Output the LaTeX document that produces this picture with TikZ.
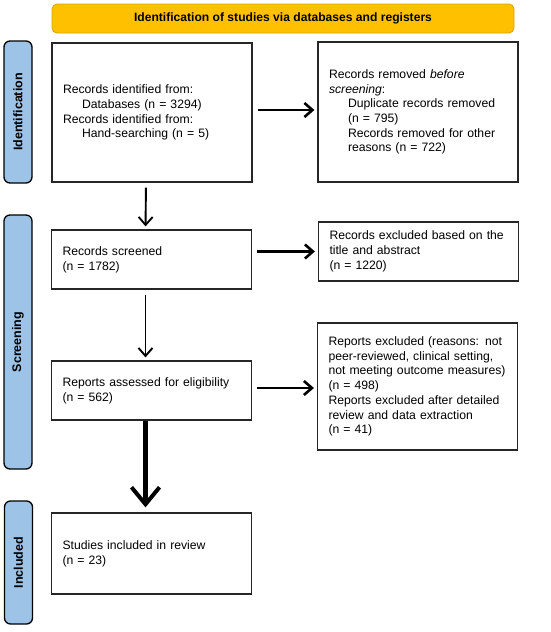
\documentclass[tikz,border=0pt]{standalone}
\usepackage{fontspec}
\setmainfont{Liberation Sans}
\usetikzlibrary{arrows.meta}
\definecolor{PrismaGold}{HTML}{FFC000}
\definecolor{PrismaGoldEdge}{HTML}{D9A200}
\definecolor{PrismaBlue}{HTML}{9DC3E6}
\definecolor{PrismaEdge}{HTML}{262626}

\begin{document}
\begin{tikzpicture}[
  x=1pt, y=-1pt,
  every node/.style={font=\fontsize{12.2pt}{14.7pt}\selectfont},
  box/.style={draw=PrismaEdge, line width=1.2pt, align=left,
              text width=178pt, inner xsep=11pt, inner ysep=0pt,
              minimum width=200pt},
  banner/.style={draw=PrismaGoldEdge, fill=PrismaGold, line width=0.8pt,
                 rounded corners=5pt, minimum width=462pt, minimum height=29pt,
                 font=\fontsize{12.1pt}{14.7pt}\selectfont\bfseries},
  side/.style={draw=black, fill=PrismaBlue, line width=1.3pt,
               rounded corners=6pt, minimum width=28pt, inner sep=0pt,
               font=\fontsize{12.5pt}{14.7pt}\selectfont\bfseries},
  arr/.style={-{Straight Barb[length=8pt, width=14pt]}, line width=2.6pt,
              shorten <=5pt, shorten >=3pt},
  thinarr/.style={arr, line width=1.9pt},
  bigarr/.style={-{Straight Barb[length=17pt, width=28pt, line width=4pt]},
                 line width=4.2pt, shorten <=0pt, shorten >=5pt},
]
\useasboundingbox (0,0) rectangle (550,632);

%% -- Header and phase labels -----------------
\node[banner] at (283,18.5) (head) {Identification of studies via databases and registers};
\node[side, minimum height=142pt] at (18,112) (identlab)
     {\rotatebox{90}{Identification}};
\node[side, minimum height=254pt] at (18,342) (screenlab)
     {\rotatebox{90}{Screening}};
\node[side, minimum height=123pt] at (18.5,562.5) (incllab)
     {\rotatebox{90}{Included}};

%% -- Identification ---------------------------
\node[box, minimum height=139pt] at (152,112.5) (ident)
     {Records identified from:\\
      \hspace*{19pt}Databases (n = 3294)\\
      Records identified from:\\
      \hspace*{19pt}Hand-searching (n = 5)};
\node[box, minimum height=140pt] at (418,112) (removed)
     {Records removed \textit{before}\\
      \textit{screening}:\\
      \hspace*{19pt}Duplicate records removed\\
      \hspace*{19pt}(n = 795)\\
      \hspace*{19pt}Records removed for other\\
      \hspace*{19pt}reasons (n = 722)};

%% -- Screening --------------------------------
\node[box, minimum height=59pt] at (151.5,259.5) (screened)
     {Records screened\\(n = 1782)};
\node[box, minimum height=59pt] at (418.5,251.5) (excluded)
     {Records excluded based on the\\title and abstract\\(n = 1220)};
\node[box, minimum height=59pt] at (151.5,390.5) (assessed)
     {Reports assessed for eligibility\\(n = 562)};
\node[box, minimum height=127pt] at (417.5,386.5) (reportsout)
     {Reports excluded (reasons: not\\
      peer-reviewed, clinical setting,\\
      not meeting outcome measures)\\
      (n = 498)\\
      Reports excluded after detailed\\
      review and data extraction\\
      (n = 41)};

%% -- Included ---------------------------------
\node[box, minimum height=81pt] at (151.5,553.5) (included)
     {Studies included in review\\(n = 23)};

%% -- Arrows -----------------------------------
\draw[arr] (ident.east |- 0,110) -- (removed.west |- 0,110);
\draw[arr] (screened.east |- excluded.west) -- (excluded.west);
\draw[arr] (assessed.east |- 0,388) -- (reportsout.west |- 0,388);
\draw[thinarr] ([xshift=-6pt]ident.south) -- ([xshift=-6pt]screened.north);
\draw[thinarr] ([xshift=-6pt]screened.south) -- ([xshift=-6pt]assessed.north);
\draw[bigarr] ([xshift=-6pt]assessed.south) -- ([xshift=-6pt]included.north);

\end{tikzpicture}
\end{document}
